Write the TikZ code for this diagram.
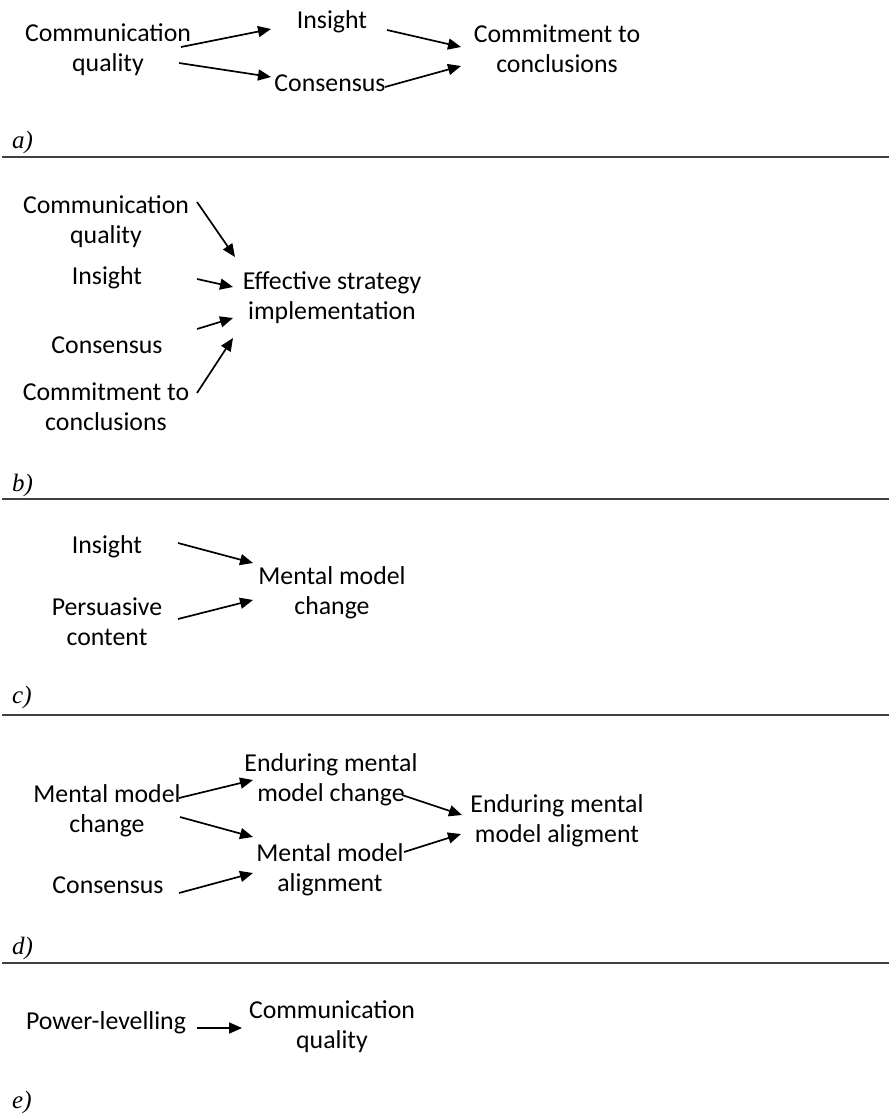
\documentclass[tikz,border=0pt]{standalone}
\usepackage{fontspec}
\setmainfont{Carlito}
\newfontfamily\lblfont{Liberation Serif}
\usetikzlibrary{arrows.meta}
\tikzset{
  txt/.style={inner sep=0pt, align=center, font=\fontsize{25.8}{30}\selectfont},
  lbl/.style={inner sep=0pt, anchor=west, font=\lblfont\itshape\fontsize{25}{28}\selectfont},
  arr/.style={draw=black, line width=1.7pt, -{Triangle[length=13pt,width=11pt]}},
  sep/.style={draw=black!75, line width=2.2pt}
}
\begin{document}
\begin{tikzpicture}[x=1pt,y=-1pt]
\useasboundingbox (0,0) rectangle (889,1115);
% ---------- panel a
\node[txt] (a_cq) at (108,50) {Communication\\quality};
\node[txt] (a_ins) at (332,22) {Insight};
\node[txt] (a_con) at (330,83) {Consensus};
\node[txt] (a_com) at (557,49) {Commitment to\\conclusions};
\draw[arr] ([shift={(73,-3)}]a_cq.center) -- ([shift={(-61,7)}]a_ins.center);
\draw[arr] ([shift={(71,13)}]a_cq.center) -- ([shift={(-59,-6)}]a_con.center);
\draw[arr] ([shift={(55,8)}]a_ins.center) -- ([shift={(-96,-2)}]a_com.center);
\draw[arr] ([shift={(55,4)}]a_con.center) -- ([shift={(-96,17)}]a_com.center);
\node[lbl] (la) at (12,142) {a)};
\coordinate (sa1) at (2,157); \coordinate (sa2) at (889,157);
\draw[sep] (sa1) -- (sa2);
% ---------- panel b
\node[txt] (b_cq) at (106,222) {Communication\\quality};
\node[txt] (b_ins) at (107,278) {Insight};
\node[txt] (b_con) at (107,345) {Consensus};
\node[txt] (b_com) at (106,407) {Commitment to\\conclusions};
\node[txt] (b_eff) at (332,298) {Effective strategy\\implementation};
\draw[arr] ([shift={(91,-20)}]b_cq.center) -- ([shift={(-97,-41)}]b_eff.center);
\draw[arr] ([shift={(90,1)}]b_ins.center) -- ([shift={(-99,-11)}]b_eff.center);
\draw[arr] ([shift={(90,-16)}]b_con.center) -- ([shift={(-99,20)}]b_eff.center);
\draw[arr] ([shift={(91,-14)}]b_com.center) -- ([shift={(-99,40)}]b_eff.center);
\node[lbl] (lb) at (12,485) {b)};
\coordinate (sb1) at (2,499); \coordinate (sb2) at (889,499);
\draw[sep] (sb1) -- (sb2);
% ---------- panel c
\node[txt] (c_ins) at (107,547) {Insight};
\node[txt] (c_per) at (107,622) {Persuasive\\content};
\node[txt] (c_mmc) at (332,593) {Mental model\\change};
\draw[arr] ([shift={(71,-4)}]c_ins.center) -- ([shift={(-79,-30)}]c_mmc.center);
\draw[arr] ([shift={(71,-3)}]c_per.center) -- ([shift={(-79,7)}]c_mmc.center);
\node[lbl] (lc) at (12,697) {c)};
\coordinate (sc1) at (2,715); \coordinate (sc2) at (889,715);
\draw[sep] (sc1) -- (sc2);
% ---------- panel d
\node[txt] (d_mmc) at (107,811) {Mental model\\change};
\node[txt] (d_con) at (108,885) {Consensus};
\node[txt] (d_emmc) at (331,780) {Enduring mental\\model change};
\node[txt] (d_mma) at (330,870) {Mental model\\alignment};
\node[txt] (d_emma) at (557,821) {Enduring mental\\model aligment};
\draw[arr] ([shift={(72,-13)}]d_mmc.center) -- ([shift={(-78,0)}]d_emmc.center);
\draw[arr] ([shift={(73,6)}]d_mmc.center) -- ([shift={(-77,-33)}]d_mma.center);
\draw[arr] ([shift={(71,15)}]d_emmc.center) -- ([shift={(-95,-6)}]d_emma.center);
\draw[arr] ([shift={(74,-18)}]d_mma.center) -- ([shift={(-96,13)}]d_emma.center);
\draw[arr] ([shift={(71,8)}]d_con.center) -- ([shift={(-77,3)}]d_mma.center);
\node[lbl] (ld) at (12,948) {d)};
\coordinate (sd1) at (2,963); \coordinate (sd2) at (889,963);
\draw[sep] (sd1) -- (sd2);
% ---------- panel e
\node[txt] (e_pl) at (106,1023) {Power-levelling};
\node[txt] (e_cq) at (332,1027) {Communication\\quality};
\draw[arr] ([shift={(91,5)}]e_pl.center) -- ([shift={(-90,1)}]e_cq.center);
\node[lbl] (le) at (12,1102) {e)};
\end{tikzpicture}
\end{document}
